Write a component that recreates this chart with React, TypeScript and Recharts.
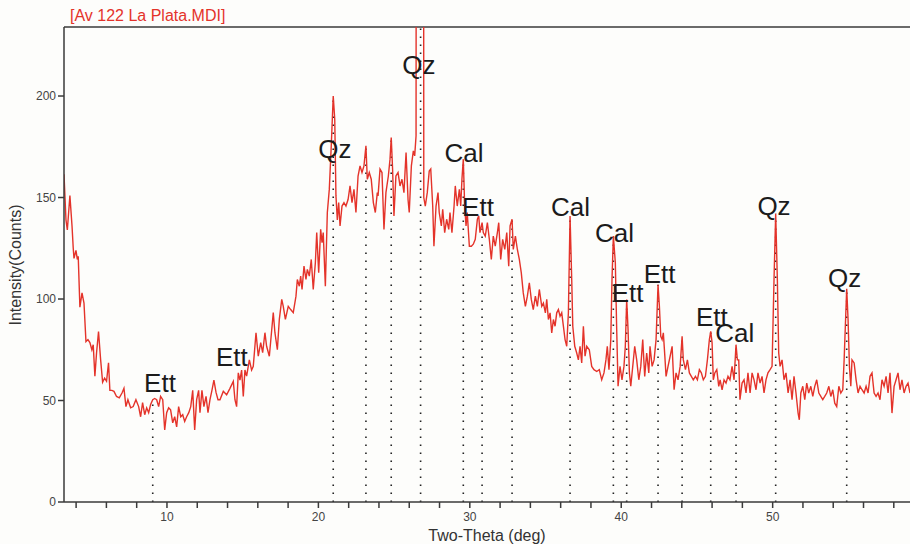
import { LineChart, Line, XAxis, YAxis, ReferenceLine, ReferenceDot } from 'recharts';

// XRD scan, [two-theta (deg), intensity (counts)]
const scanLowAngle: [number, number][] = [
  [3.20, 161.5], [3.33, 139], [3.42, 134], [3.59, 151], [3.73, 136], [3.81, 125], [3.86, 120], [3.99, 124],
  [4.08, 119.5], [4.14, 121], [4.25, 96], [4.39, 103], [4.52, 98], [4.65, 79], [4.78, 80], [4.91, 78.5],
  [5.04, 75], [5.13, 77.5], [5.24, 62], [5.35, 73.5], [5.48, 84], [5.62, 70], [5.75, 59], [5.88, 61],
  [6.01, 59.5], [6.14, 68.6], [6.23, 55], [6.36, 55], [6.50, 54.5], [6.67, 52], [6.85, 51.3], [7.03, 53.7],
  [7.16, 56], [7.29, 47], [7.42, 50.4], [7.60, 46.4], [7.77, 47], [7.95, 50.4], [8.13, 47], [8.26, 42],
  [8.39, 49], [8.53, 43], [8.66, 46.4], [8.79, 44], [8.92, 48], [9.06, 50.4], [9.19, 51], [9.32, 50.4],
  [9.45, 47], [9.58, 52], [9.72, 50.4], [9.85, 35.5], [9.98, 44], [10.11, 46.4], [10.24, 45.4], [10.38, 39],
  [10.51, 42], [10.64, 37], [10.77, 47], [10.91, 42], [11.04, 43], [11.17, 39.7], [11.30, 42], [11.44, 44],
  [11.57, 47], [11.70, 55], [11.83, 35.5], [11.96, 50.4], [12.09, 55], [12.18, 44], [12.31, 55], [12.44, 47],
  [12.58, 52], [12.71, 44], [12.84, 50.4], [12.97, 55], [13.10, 60], [13.24, 54], [13.37, 50.4],
];

const scanHump: [number, number][] = [
  [13.50, 50.4], [13.72, 54.5], [13.94, 52.8], [14.16, 56], [14.38, 59.4], [14.49, 50.4], [14.60, 47], [14.71, 63.6],
  [14.82, 60], [14.93, 65], [15.04, 52], [15.15, 65], [15.26, 62], [15.44, 70], [15.59, 65], [15.70, 66.8],
  [15.88, 83.4], [16.03, 71.8], [16.19, 78.5], [16.32, 73.6], [16.47, 83.4], [16.58, 76.7], [16.76, 71.8], [16.92, 85],
  [17.02, 93.3], [17.13, 83.4], [17.29, 75], [17.42, 90], [17.58, 99.8], [17.68, 96.4], [17.82, 90], [18.01, 96.4],
  [18.17, 94.8], [18.34, 93.3], [18.52, 101.4], [18.61, 109.6], [18.74, 106.3], [18.83, 111.3], [18.92, 104.7], [19.05, 116.2],
  [19.18, 109.6], [19.27, 114.6], [19.40, 111.3], [19.53, 119.5], [19.66, 104.7], [19.80, 117.9], [19.89, 132.7], [20.02, 113],
  [20.15, 134.3], [20.24, 127.8], [20.32, 132.7], [20.46, 106.3], [20.59, 142.6], [20.72, 154], [20.85, 175.5], [20.98, 200],
  [21.08, 188.6], [21.16, 150.8], [21.25, 139], [21.34, 147.5], [21.43, 136], [21.56, 145.8], [21.69, 147.5], [21.82, 145.8],
  [21.96, 149], [22.09, 155.7], [22.22, 147.5], [22.35, 154], [22.48, 142.6], [22.62, 160.6], [22.75, 165.6], [22.88, 162.3],
  [23.01, 165.6], [23.14, 175.5], [23.23, 159], [23.36, 162.3], [23.49, 159], [23.63, 147.5], [23.76, 142.6], [23.89, 152.4],
];

const scanQuartzMain: [number, number][] = [
  [23.94, 150.8], [24.07, 164], [24.20, 162.3], [24.33, 134.3], [24.46, 152.4], [24.62, 160.6], [24.73, 168.9], [24.81, 179.6],
  [24.90, 164], [24.99, 140.9], [25.12, 160.6], [25.26, 162.3], [25.39, 155.7], [25.52, 159], [25.65, 152.4], [25.79, 172.2],
  [25.92, 149], [26.00, 142.6], [26.14, 165.6], [26.27, 173], [26.36, 170.5], [26.45, 180.4], [26.50, 800], [26.66, 980],
  [26.80, 940], [26.92, 800], [26.96, 150], [27.06, 145.8], [27.19, 152.4], [27.32, 163], [27.42, 164], [27.55, 145.8],
  [27.63, 126], [27.77, 145.8], [27.90, 152.4], [27.98, 142.6], [28.12, 136], [28.21, 144.2], [28.34, 132.7], [28.47, 139.3],
  [28.61, 134.3], [28.69, 142.6], [28.82, 132.7], [28.96, 145.8], [29.04, 155.7], [29.17, 145.8], [29.31, 154], [29.40, 145.8],
  [29.48, 159], [29.57, 168.9], [29.66, 145.8], [29.75, 136], [29.83, 142.6], [29.97, 126], [30.10, 126], [30.23, 127],
  [30.36, 129.4], [30.50, 139.3], [30.59, 141], [30.67, 132.7], [30.81, 137.6], [30.89, 132.7], [31.02, 131], [31.16, 137.6],
  [31.29, 129.4], [31.42, 119.5], [31.55, 131], [31.68, 126], [31.82, 132.7], [31.91, 137.6], [32.04, 119.5], [32.17, 129.4],
  [32.31, 124.4], [32.44, 132.7], [32.57, 116.2], [32.66, 136], [32.79, 139.3], [32.87, 124.4], [33.01, 131], [33.14, 124.4],
  [33.27, 119.5], [33.40, 112.9], [33.53, 103], [33.67, 96.4], [33.80, 101.4], [33.93, 108], [34.06, 99.8], [34.19, 94.8],
  [34.33, 101.4], [34.46, 96.4], [34.59, 104.7],
];

const scanCalcite: [number, number][] = [
  [34.75, 96.4], [34.86, 98], [34.99, 93.2], [35.08, 99.8], [35.19, 89.9], [35.30, 93.2], [35.41, 83.3], [35.52, 89.9],
  [35.63, 86.6], [35.74, 93.2], [35.85, 94.8], [35.96, 91.5], [36.07, 93.2], [36.18, 86.6], [36.29, 80], [36.40, 76.7],
  [36.51, 93.2], [36.62, 140.9], [36.73, 109.6], [36.80, 86.6], [36.93, 76.7], [37.06, 73.4], [37.17, 70], [37.28, 76.7],
  [37.39, 68.5], [37.50, 86.6], [37.61, 71.8], [37.72, 76.7], [37.89, 75], [38.05, 66.8], [38.20, 65.2], [38.38, 64.3],
  [38.55, 65.2], [38.71, 60.2], [38.86, 63.6], [38.99, 70], [39.08, 76.7], [39.19, 65.2], [39.31, 80], [39.39, 109.6],
  [39.48, 131], [39.61, 117.9], [39.70, 85], [39.79, 57], [39.92, 66.8], [40.05, 60.2], [40.18, 66.8], [40.27, 76.7],
  [40.36, 99.8], [40.45, 85], [40.54, 63.6], [40.63, 57], [40.76, 66.8], [40.89, 76.7], [41.02, 70], [41.16, 60.2],
  [41.29, 66.8], [41.42, 80], [41.55, 61.9], [41.68, 73.4], [41.82, 63.6], [41.90, 76.7], [42.04, 66.8], [42.17, 70],
  [42.30, 80], [42.43, 107], [42.52, 96.4], [42.61, 81.6], [42.70, 80], [42.78, 83.3], [42.88, 71.8], [42.96, 61.9],
  [43.09, 66.8], [43.23, 71.8], [43.36, 76.7], [43.49, 55.3], [43.62, 63.6], [43.75, 60.2], [43.89, 66.8], [44.02, 81.6],
  [44.10, 70], [44.24, 65.2], [44.37, 70], [44.50, 63.6], [44.63, 61.9], [44.76, 60.2], [44.90, 61.9],
];

const scanHighAngle: [number, number][] = [
  [45.03, 60.2], [45.16, 65.2], [45.29, 63.6], [45.42, 60.2], [45.56, 61.9], [45.69, 70], [45.82, 80], [45.91, 84.1],
  [46.00, 78.4], [46.08, 60.2], [46.18, 63.6], [46.31, 65.2], [46.44, 57], [46.53, 60.2], [46.66, 55.3], [46.79, 60.2],
  [46.92, 58.6], [47.05, 61.9], [47.18, 60.2], [47.32, 66.8], [47.45, 60.2], [47.58, 77.5], [47.67, 70], [47.76, 70],
  [47.84, 50.4], [47.98, 58.6], [48.11, 60.2], [48.24, 53.7], [48.37, 63.6], [48.51, 53.7], [48.64, 63.6], [48.77, 60.2],
  [48.90, 55.3], [49.03, 63.6], [49.17, 58.6], [49.30, 61.9], [49.43, 53.7], [49.56, 60.2], [49.69, 63.6], [49.83, 65.2],
  [49.96, 66.8], [50.09, 109.6], [50.20, 142], [50.31, 109.6], [50.40, 73.4], [50.49, 66.8], [50.62, 70], [50.75, 60.2],
  [50.88, 63.6], [51.02, 53.7], [51.15, 60.2], [51.28, 50.4], [51.41, 61.9], [51.54, 53.7], [51.68, 43.8], [51.76, 40.5],
  [51.86, 53.7], [51.99, 57], [52.12, 50.4], [52.25, 58.6], [52.38, 53.7], [52.52, 57], [52.65, 52], [52.78, 57],
  [52.91, 60.2], [53.05, 53.7], [53.18, 52], [53.31, 50.4], [53.44, 52], [53.57, 53.7], [53.71, 57], [53.84, 52],
  [53.97, 55.3], [54.10, 48.7], [54.23, 47], [54.37, 57], [54.50, 53.7], [54.63, 55.3], [54.72, 70], [54.80, 86.6],
  [54.89, 105], [54.98, 89.9], [55.07, 66.8], [55.16, 57], [55.24, 70], [55.38, 68.5], [55.51, 60.2], [55.64, 53.7],
  [55.77, 57], [55.90, 55.3], [56.04, 53.7], [56.17, 57], [56.30, 53.7], [56.43, 61.9], [56.56, 63.6], [56.70, 53.7],
  [56.83, 52], [56.96, 53.7], [57.09, 50.4], [57.22, 60.2], [57.36, 57], [57.49, 61.9], [57.62, 53.7], [57.75, 63.6],
  [57.88, 43.8], [58.02, 57], [58.15, 60.2], [58.28, 63.6], [58.41, 55.3], [58.54, 60.2], [58.68, 53.7], [58.81, 57],
  [58.94, 58.6], [59.07, 53.7],
];

// dotted drop lines at identified reflections
const peakTheta = [9.06, 20.98, 23.14, 24.81, 26.75, 29.57, 30.81, 32.79, 36.62, 39.48, 40.36, 42.43, 44.02, 45.91, 47.58, 50.2, 54.89];

// phase labels
const phaseNames = ['Ett', 'Ett', 'Qz', 'Qz', 'Cal', 'Ett', 'Cal', 'Cal', 'Ett', 'Ett', 'Ett', 'Cal', 'Qz', 'Qz'];
const phaseTheta = [9.54, 14.29, 21.09, 26.64, 29.62, 30.54, 36.65, 39.55, 40.42, 42.53, 45.98, 47.5, 50.09, 54.75];
const phaseCounts = [58.8, 71.6, 174.3, 215.3, 171.9, 145.4, 145.4, 132.8, 103, 112.3, 91.4, 83.2, 146.2, 110.6];

const xTicks = [4, 6, 8, 10, 12, 14, 16, 18, 20, 22, 24, 26, 28, 30, 32, 34, 36, 38, 40, 42, 44, 46, 48, 50, 52, 54, 56, 58];
const yTicks = [0, 50, 100, 150, 200];
const X_MIN = 3.2;
const X_MAX = 59.07;
const Y_MAX = 234;

const FONT = '"Liberation Sans", Arial, Helvetica, sans-serif';
const RED = '#e4332a';
const AXIS = '#3a3a3a';

const scan = [...scanLowAngle, ...scanHump, ...scanQuartzMain, ...scanCalcite, ...scanHighAngle]
  .map(([theta, counts]) => ({ theta, counts }));

const heightAt = (t: number) => {
  let best = scan[0];
  for (const p of scan) if (Math.abs(p.theta - t) < Math.abs(best.theta - t)) best = p;
  return Math.min(best.counts, Y_MAX);
};

export default function App() {
  return (
    <div style={{ position: 'absolute', left: 0, top: 0, width: 910, height: 544, background: '#fdfdfb', fontFamily: FONT, overflow: 'hidden' }}>
      <div style={{ position: 'absolute', left: 70, top: 7, fontSize: 16, color: RED, whiteSpace: 'nowrap', lineHeight: '18px' }}>
        [Av 122 La Plata.MDI]
      </div>
      <div style={{
        position: 'absolute', left: 16, top: 265, transform: 'translate(-50%, -50%) rotate(-90deg)',
        fontSize: 16, color: '#333', whiteSpace: 'nowrap',
      }}>
        Intensity(Counts)
      </div>
      <LineChart width={910} height={544} data={scan} margin={{ top: 27, right: 0, bottom: 0, left: 8 }}>
        <XAxis
          dataKey="theta" type="number" domain={[X_MIN, X_MAX]} allowDataOverflow ticks={xTicks} interval={0}
          tickFormatter={(v: number) => (v % 10 === 0 ? String(v) : '')}
          height={42} tickSize={6} tickMargin={4}
          stroke={AXIS} strokeWidth={1.5} tickLine={{ stroke: AXIS, strokeWidth: 1.5 }}
          tick={{ fontSize: 12, fill: '#444' }}
          label={{ value: 'Two-Theta (deg)', position: 'insideBottom', offset: 3, fontSize: 16, fill: '#333' }}
        />
        <YAxis
          type="number" domain={[0, Y_MAX]} allowDataOverflow ticks={yTicks} interval={0}
          width={56} tickSize={6} tickMargin={2}
          stroke={AXIS} strokeWidth={1.5} tickLine={{ stroke: AXIS, strokeWidth: 1.5 }}
          tick={{ fontSize: 12, fill: '#444' }}
        />
        <ReferenceLine y={Y_MAX} stroke={AXIS} strokeWidth={1.5} />
        {peakTheta.map((t) => (
          <ReferenceLine
            key={t}
            segment={[{ x: t, y: 0 }, { x: t, y: heightAt(t) }]}
            stroke="#222" strokeWidth={1.6} strokeDasharray="1.6 6.4"
          />
        ))}
        <Line
          type="linear" dataKey="counts" stroke={RED} strokeWidth={1.4}
          dot={false} activeDot={false} isAnimationActive={false}
        />
        {phaseNames.map((name, i) => (
          <ReferenceDot
            key={i} x={phaseTheta[i]} y={phaseCounts[i]} r={0}
            shape={(p: any) => (
              <text x={p.cx} y={p.cy} dy="0.36em" textAnchor="middle" fontSize={26} fill="#1b1b1b" fontFamily={FONT}>
                {name}
              </text>
            )}
          />
        ))}
      </LineChart>
    </div>
  );
}
